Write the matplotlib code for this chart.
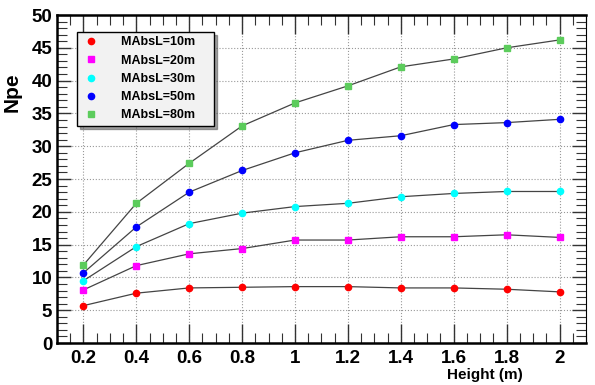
import matplotlib.pyplot as plt
from matplotlib.ticker import MultipleLocator

plt.rcParams['font.family'] = ['Liberation Sans', 'DejaVu Sans']
plt.rcParams['font.weight'] = 'bold'

height = [0.2, 0.4, 0.6, 0.8, 1.0, 1.2, 1.4, 1.6, 1.8, 2.0]
npe_10m = [5.7, 7.6, 8.4, 8.5, 8.6, 8.6, 8.4, 8.4, 8.2, 7.8]
npe_20m = [8.1, 11.8, 13.6, 14.4, 15.7, 15.7, 16.2, 16.2, 16.5, 16.1]
npe_30m = [9.5, 14.7, 18.2, 19.8, 20.8, 21.3, 22.3, 22.8, 23.1, 23.1]
npe_50m = [10.7, 17.7, 23.0, 26.3, 29.0, 30.9, 31.6, 33.3, 33.6, 34.1]
npe_80m = [11.9, 21.3, 27.4, 33.1, 36.6, 39.2, 42.1, 43.3, 45.0, 46.2]

series = [
    ("MAbsL=10m", npe_10m, '#ff0000', 'o'),
    ("MAbsL=20m", npe_20m, '#ff00ff', 's'),
    ("MAbsL=30m", npe_30m, '#00ffff', 'o'),
    ("MAbsL=50m", npe_50m, '#0000ff', 'o'),
    ("MAbsL=80m", npe_80m, '#5ccc5c', 's'),
]


def main():
    fig = plt.figure(figsize=(5.95, 3.85), dpi=100)
    ax = fig.add_axes([0.0958, 0.109, 0.889, 0.852])

    for label, vals, color, marker in series:
        ax.plot(height, vals, color='#444444', lw=0.9, zorder=2)
        ax.plot(height, vals, ls='none', marker=marker, color=color,
                markersize=5 if marker == 's' else 4.5,
                label=label + "    ", zorder=3)

    ax.set_xlim(0.1, 2.1)
    ax.set_ylim(0, 50)
    ax.xaxis.set_minor_locator(MultipleLocator(0.05))
    ax.yaxis.set_major_locator(MultipleLocator(5))
    ax.yaxis.set_minor_locator(MultipleLocator(1))
    ax.set_xticks(height)
    ax.set_xticklabels(['0.2', '0.4', '0.6', '0.8', '1', '1.2', '1.4', '1.6', '1.8', '2'])

    ax.grid(True, which='major', ls=':', color='#999999', lw=0.8)
    ax.tick_params(which='both', direction='in', top=True, right=True, labelsize=13.5)
    ax.tick_params(which='major', length=14, width=1.0, color='#333333')
    ax.tick_params(which='minor', length=7, width=0.8, color='#333333')
    ax.tick_params(axis='y', which='major', length=10)
    ax.tick_params(axis='x', pad=5)

    for side in ['left', 'bottom', 'top']:
        ax.spines[side].set_linewidth(1.8)
    ax.spines['right'].set_linewidth(0.8)

    fig.text(0.02, 0.76, "Npe", rotation=90, fontsize=15, fontweight='bold',
             ha='center', va='center')
    fig.text(0.879, 0.025, "Height (m)", fontsize=11, fontweight='bold',
             ha='right', va='center')

    leg = ax.legend(loc='upper left', bbox_to_anchor=(0.038, 0.948),
                    borderaxespad=0, fancybox=False, shadow=True,
                    edgecolor='black', facecolor='#f2f2f2', framealpha=1,
                    prop={'size': 9, 'weight': 'bold'}, handlelength=1.5,
                    handletextpad=1.7, labelspacing=0.5, borderpad=0.35)
    leg.get_frame().set_linewidth(1.0)

    fig.savefig('out.png', dpi=100)


if __name__ == '__main__':
    main()
